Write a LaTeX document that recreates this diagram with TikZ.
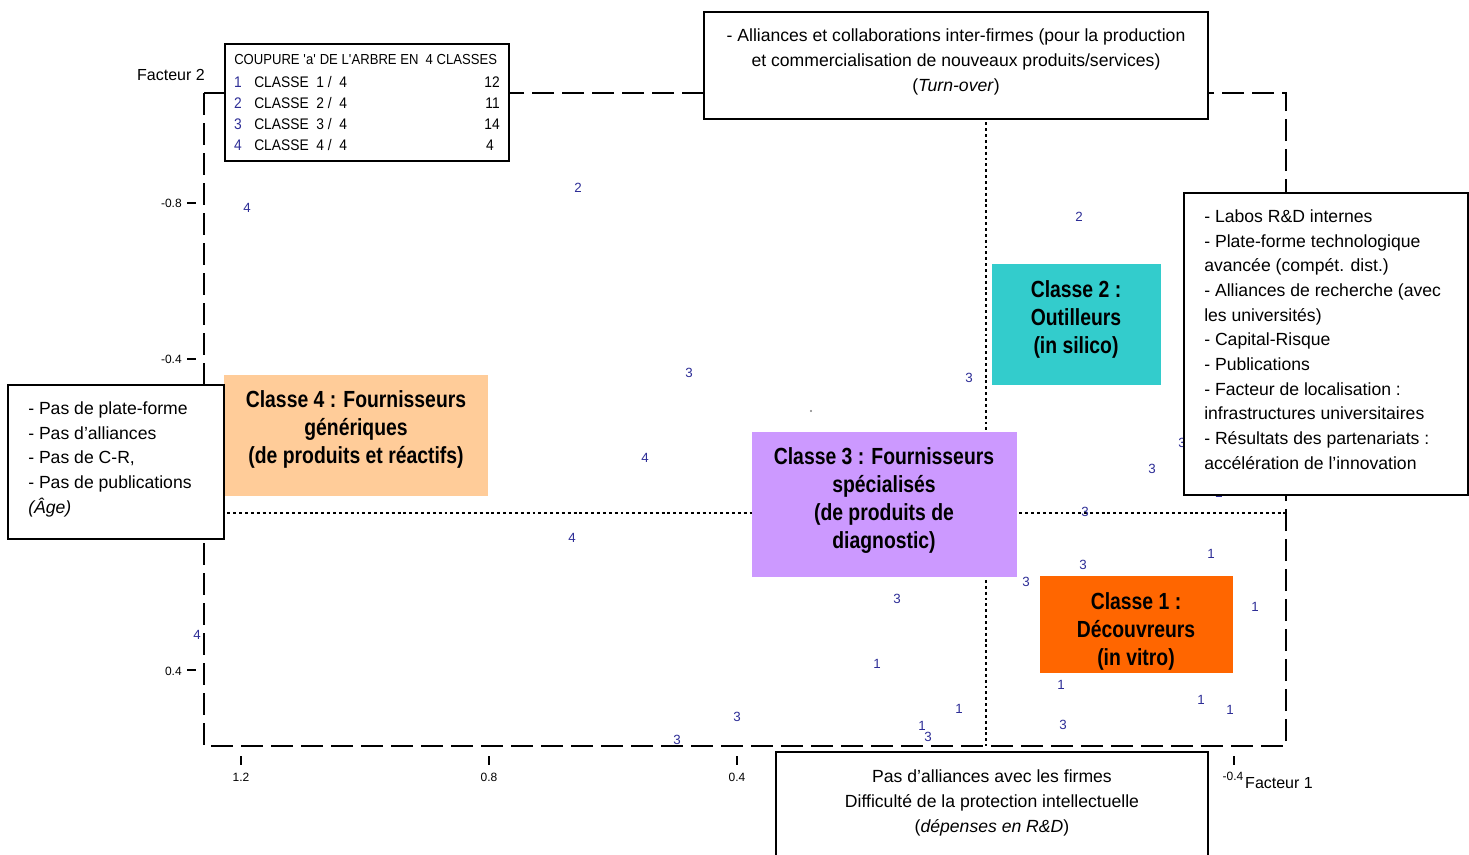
\documentclass[tikz,border=0pt]{standalone}
\usepackage{fontspec}
\setmainfont{Liberation Sans}
\newfontfamily\narf[FakeStretch=0.83]{Liberation Sans}
\newfontfamily\legf[FakeStretch=0.9]{Liberation Sans}
\usetikzlibrary{fit}
\definecolor{ptblue}{RGB}{45,45,150}
\definecolor{cfour}{RGB}{255,204,153}
\definecolor{cthree}{RGB}{204,153,255}
\definecolor{ctwo}{RGB}{51,204,204}
\definecolor{cone}{RGB}{255,102,0}
\begin{document}
\begin{tikzpicture}[x=0.75pt,y=-0.75pt,
 frame/.style={line width=1pt, dash pattern=on 16.5pt off 6pt},
 guide/.style={line width=0.8pt, dash pattern=on 2.2pt off 2.2pt},
 tickline/.style={line width=0.8pt},
 pt/.style={text=ptblue, font=\fontsize{10}{12}\selectfont, inner sep=0pt},
 ticklbl/.style={font=\fontsize{9}{10}\selectfont, inner sep=0pt},
 axlbl/.style={font=\fontsize{12}{14}\selectfont, inner sep=0pt},
 whitebox/.style={draw, line width=1.4pt, fill=white, inner sep=0pt},
 classbox/.style={inner sep=0pt, draw=none},
 info/.style={font=\fontsize{13.2}{18.5}\selectfont, inner sep=0pt},
 classtxt/.style={font=\narf\bfseries\fontsize{17.5}{21}\selectfont, align=center, inner sep=0pt},
 leg/.style={font=\legf\fontsize{11.5}{13}\selectfont, inner sep=0pt},
 legtitle/.style={font=\legf\fontsize{10.9}{13}\selectfont, inner sep=0pt},
]
\useasboundingbox (0,0) rectangle (1469,854);
\clip (0,0) rectangle (1469,854);

% frame and guides
\draw[frame] (204,93) rectangle (1286,746);
\draw[guide] (986,93) -- (986,746);
\draw[guide] (204,513) -- (1286,513);

% ticks
\draw[tickline] (187,203) -- (196,203);
\draw[tickline] (187,359) -- (196,359);
\draw[tickline] (187,670) -- (196,670);
\draw[tickline] (241,756) -- (241,765);
\draw[tickline] (489,756) -- (489,765);
\draw[tickline] (737,756) -- (737,765);
\draw[tickline] (1234,756) -- (1234,765);

\node[ticklbl, anchor=east] (ya) at (182,203) {-0.8};
\node[ticklbl, anchor=east] (yb) at (182,359) {-0.4};
\node[ticklbl, anchor=east] (yc) at (182,671) {0.4};
\node[ticklbl] (xa) at (241,777) {1.2};
\node[ticklbl] (xb) at (489,777) {0.8};
\node[ticklbl] (xc) at (737,777) {0.4};
\node[ticklbl] (xd) at (1233,776) {-0.4};
\node[axlbl] (f2) at (171,75) {Facteur 2};
\node[axlbl] (f1) at (1279,783) {Facteur 1};

% scatter points
\foreach \px/\py/\pl [count=\i] in {
 247/208/4, 578/188/2, 1079/217/2, 689/373/3, 969/378/3, 1043/379/2,
 1182/443/3, 1152/469/3, 1219/493/2, 645/458/4, 1085/512/3, 572/538/4,
 1211/554/1, 1083/565/3, 1026/582/3, 1255/607/1, 897/599/3, 197/635/4,
 877/664/1, 1061/685/1, 1201/700/1, 1230/710/1, 959/709/1, 737/717/3,
 922/726/1, 928/737/3, 1063/725/3, 677/740/3}
 \node[pt] (p\i) at (\px,\py) {\pl};
\fill[gray] (811,411) circle[radius=0.8pt];

% class boxes
\node[classbox, fill=cfour, fit={(224,375) (488,496)}] (c4box) {};
\node[classtxt] (c4txt) at (356,429.5) {Classe 4 : Fournisseurs\\génériques\\(de produits et réactifs)};

\node[classbox, fill=cthree, fit={(752,432) (1017,577)}] (c3box) {};
\node[classtxt] (c3txt) at (884,500.5) {Classe 3 : Fournisseurs\\spécialisés\\(de produits de\\diagnostic)};

\node[classbox, fill=ctwo, fit={(992,264) (1161,385)}] (c2box) {};
\node[classtxt] (c2txt) at (1076,319) {Classe 2 :\\Outilleurs\\(in silico)};

\node[classbox, fill=cone, fit={(1040,576) (1233,673)}] (c1box) {};
\begin{scope}
\clip (1040,576) rectangle (1233,673);
\node[classtxt] (c1txt) at (1136,631) {Classe 1 :\\Découvreurs\\(in vitro)};
\end{scope}

% white boxes
\node[whitebox, fit={(704,12) (1208,119)}] (topbox) {};
\node[info, align=center] (toptxt) at (956,62) {- Alliances et collaborations inter-firmes (pour la production\\et commercialisation de nouveaux produits/services)\\(\textit{Turn-over})};

\node[whitebox, fit={(1184,193) (1468,495)}] (rightbox) {};
\node[info, align=left, anchor=north west] (righttxt) at (1204,209.5) {- Labos R\&D internes\\- Plate-forme technologique\\avancée (compét. dist.)\\- Alliances de recherche (avec\\les universités)\\- Capital-Risque\\- Publications\\- Facteur de localisation :\\infrastructures universitaires\\- Résultats des partenariats :\\accélération de l’innovation};

\node[whitebox, fit={(8,385) (224,539)}] (leftbox) {};
\node[info, align=left, anchor=north west] (lefttxt) at (28,401.5) {- Pas de plate-forme\\- Pas d’alliances\\- Pas de C-R,\\- Pas de publications\\\textit{(Âge)}};

\node[whitebox, fit={(776,752) (1208,880)}] (botbox) {};
\node[info, align=center] (bottxt) at (992,803) {Pas d’alliances avec les firmes\\Difficulté de la protection intellectuelle\\(\textit{dépenses en R\&D})};

% legend
\node[whitebox, line width=1pt, fit={(225,44) (509,161)}] (legbox) {};
\node[legtitle, anchor=west] (legttl) at (234,59) {COUPURE \textquotesingle a\textquotesingle\ DE L\textquotesingle ARBRE EN\ \ 4 CLASSES};
\node[leg, text=ptblue] (l1n) at (238,82) {1};
\node[leg, anchor=west] (l1t) at (254,82) {CLASSE\ \ 1 /\ \ 4};
\node[leg, anchor=east] (l1c) at (500,82) {12};
\node[leg, text=ptblue] (l2n) at (238,103) {2};
\node[leg, anchor=west] (l2t) at (254,103) {CLASSE\ \ 2 /\ \ 4};
\node[leg, anchor=east] (l2c) at (500,103) {11};
\node[leg, text=ptblue] (l3n) at (238,124) {3};
\node[leg, anchor=west] (l3t) at (254,124) {CLASSE\ \ 3 /\ \ 4};
\node[leg, anchor=east] (l3c) at (500,124) {14};
\node[leg, text=ptblue] (l4n) at (238,145) {4};
\node[leg, anchor=west] (l4t) at (254,145) {CLASSE\ \ 4 /\ \ 4};
\node[leg, anchor=east] (l4c) at (494,145) {4};
\end{tikzpicture}
\end{document}
